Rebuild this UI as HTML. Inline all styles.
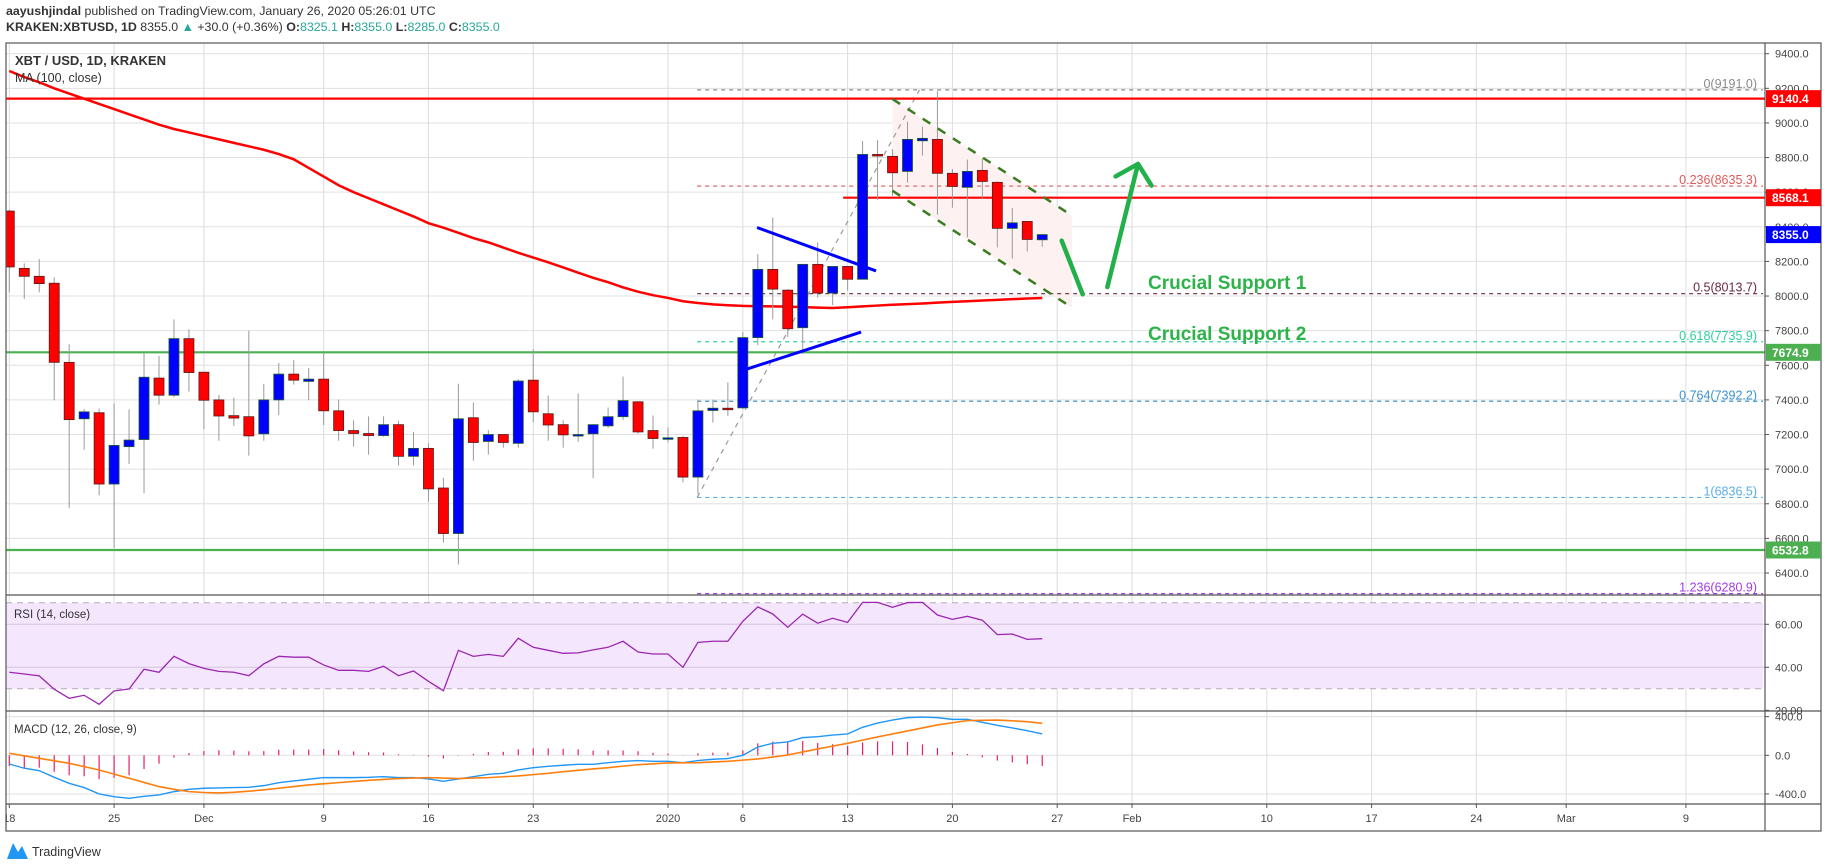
<!DOCTYPE html>
<html><head><meta charset="utf-8"><title>XBTUSD chart</title>
<style>
html,body{margin:0;padding:0;background:#fff;width:1828px;height:868px;overflow:hidden;font-family:"Liberation Sans",sans-serif;}
#hdr1{position:absolute;left:6px;top:4px;font-size:12.4px;color:#333;white-space:nowrap;}
#hdr2{position:absolute;left:6px;top:20px;font-size:12.4px;color:#333;white-space:nowrap;}
.tl{color:#26a69a;}
svg{position:absolute;left:0;top:0;}
</style></head>
<body>
<div id="hdr1"><b>aayushjindal</b> published on TradingView.com, January 26, 2020 05:26:01 UTC</div>
<div id="hdr2"><b>KRAKEN:XBTUSD, 1D</b> 8355.0 <span class="tl">▲</span> +30.0 (+0.36%) <b>O:</b><span class="tl">8325.1</span> <b>H:</b><span class="tl">8355.0</span> <b>L:</b><span class="tl">8285.0</span> <b>C:</b><span class="tl">8355.0</span></div>
<svg id="chart" width="1828" height="868"></svg>
<script>
// ---- data ----
const opens=[8491,8160,8114,8074,7617,7291,7326,6914,7130,7171,7526,7427,7754,7560,7400,7309,7303,7204,7400,7549,7507,7520,7337,7223,7206,7194,7257,7074,7120,6891,6628,7297,7160,7200,7149,7514,7320,7257,7198,7204,7250,7303,7389,7223,7179,7183,6954,7339,7352,7354,7760,8154,8034,7817,8183,8017,8171,8097,8818,8807,8720,8897,8905,8709,8628,8726,8657,8391,8431,8325];
const highs=[8500,8189,8213,8109,7722,7347,7350,7379,7345,7669,7653,7865,7808,7560,7430,7413,7800,7493,7613,7630,7585,7669,7402,7282,7305,7305,7280,7215,7150,6950,7493,7385,7225,7200,7520,7693,7425,7282,7436,7257,7356,7535,7392,7310,7242,7192,7402,7402,7501,7792,8242,8453,8040,8183,8310,8171,8171,8896,8901,8849,9007,8978,9183,8734,8788,8795,8662,8508,8431,8355];
const lows=[8021,7983,8021,7398,6775,7112,6849,6545,7030,6861,7373,7415,7448,7232,7164,7249,7078,7164,7312,7489,7398,7255,7164,7130,7084,7187,7021,7021,6811,6575,6449,7049,7084,7124,7124,7272,7164,7124,7158,6948,7238,7284,7204,7118,7154,6924,6857,7269,7307,7345,7716,7865,7764,7665,7992,7947,8032,8097,8556,8579,8655,8811,8470,8510,8339,8564,8281,8217,8258,8285];
const closes=[8168,8114,8072,7617,7286,7331,6914,7137,7168,7531,7427,7754,7558,7398,7307,7295,7192,7400,7549,7514,7520,7337,7223,7206,7194,7257,7074,7120,6886,6628,7291,7154,7200,7154,7509,7331,7255,7198,7200,7257,7303,7396,7215,7177,7181,6954,7337,7352,7350,7760,8154,8040,7811,8183,8017,8171,8097,8818,8809,8712,8905,8911,8709,8633,8720,8662,8391,8423,8327,8355];
const maValues=[9300,9265,9235,9200,9170,9140,9110,9080,9050,9020,8990,8965,8945,8925,8905,8885,8865,8845,8820,8790,8740,8690,8640,8600,8565,8530,8495,8460,8421,8395,8365,8335,8310,8280,8250,8222,8195,8165,8135,8105,8080,8050,8025,8005,7989,7970,7960,7952,7947,7943,7941,7940,7939,7936,7933,7931,7935,7940,7945,7950,7953,7957,7962,7966,7970,7974,7978,7982,7986,7989];
const rsiValues=[37.7,36.9,36.0,29.8,25.6,27.0,22.8,29.0,29.9,39.1,37.7,45.1,41.7,39.5,38.1,37.7,36.1,41.6,45.1,44.7,44.7,41.1,38.6,38.6,38.1,40.5,36.1,38.3,33.5,29.1,47.9,45.1,46.0,45.1,53.5,49.3,47.9,46.5,46.7,48.1,49.3,52.1,47.1,46.2,46.2,40.0,51.6,52.1,52.1,61.4,68.1,64.8,58.6,64.7,60.5,62.8,60.9,70.2,70.2,67.9,70.1,70.2,64.3,62.3,63.7,61.9,55.2,55.5,53.0,53.3];
const macdValues=[-90,-134,-159,-228,-290,-334,-400,-428,-445,-424,-410,-376,-352,-341,-338,-334,-331,-314,-283,-265,-248,-231,-231,-231,-228,-221,-231,-231,-245,-269,-245,-221,-197,-186,-152,-128,-114,-103,-93,-93,-76,-62,-55,-62,-62,-76,-55,-41,-34,0,86,124,138,183,193,210,221,290,334,365,390,396,390,372,372,341,310,283,255,221];
const signalValues=[21,-5,-31,-57,-83,-117,-152,-195,-238,-281,-324,-352,-376,-385,-390,-383,-372,-357,-341,-324,-307,-295,-283,-271,-259,-250,-241,-236,-231,-236,-241,-236,-231,-222,-214,-200,-186,-170,-155,-141,-128,-112,-97,-88,-79,-78,-76,-69,-62,-50,-38,-18,3,35,66,95,124,157,190,221,252,283,314,337,359,362,365,357,348,331];
const priceTicks=[9400,9200,9000,8800,8600,8400,8200,8000,7800,7600,7400,7200,7000,6800,6600,6400];
const rsiTicks=[60,40,20];
const macdTicks=[400,0,-400];
const timeTickDays=[0,7,13,21,28,35,44,49,56,63,70,75,84,91,98,104,112];
const timeTickLabels=['18','25','Dec','9','16','23','2020','6','13','20','27','Feb','10','17','24','Mar','9'];
const fibRatios=['0','0.236','0.5','0.618','0.764','1','1.236'];
const fibPrices=[9191.0,8635.3,8013.7,7735.9,7392.2,6836.5,6280.9];
const fibColors=['#8a8a8a','#e05a5a','#6a2a40','#2ecf9f','#3a92d0','#5ab0e8','#a53be0'];
const levelPrices=[9140.4,8568.1,7674.9,6532.8];
const levelColors=['#ff0000','#ff0000','#4caf50','#4caf50'];
const levelStartDay=[-1,56,-1,-1];
const lastPrice=8355.0;

// ---- axes ----
const L=6,R=1765,RR=1821,TOP=43,MB=595,RB=711,MCB=804,BOT=831;
function xD(d){return 9.3+d*14.97;}
function yP(p){return 53.7+(9400-p)*0.1731;}
function yR(v){return 624.3+(60-v)*2.15;}
function yM(v){return 755.3-v*0.0966;}

const svg=document.getElementById('chart');
const NS=svg.namespaceURI;
function mk(tag,attrs,parent){const e=document.createElementNS(NS,tag);for(const k in attrs)e.setAttribute(k,attrs[k]);(parent||svg).appendChild(e);return e;}
function fmt(v,n){return v.toFixed(n);}

const defs=mk('defs',{});
const cp=mk('clipPath',{id:'plotclip'},defs);mk('rect',{x:L,y:TOP,width:R-L,height:BOT-TOP},cp);
const g=mk('g',{'clip-path':'url(#plotclip)'});

for(const p of priceTicks){const ln=mk('line',{x1:L,x2:R,y1:yP(p),y2:yP(p),stroke:'#e0e0e0','stroke-width':1},g);

}
for(const d of timeTickDays){const ln=mk('line',{x1:xD(d),x2:xD(d),y1:TOP,y2:MCB,stroke:'#dcdcdc','stroke-width':1},g);

}

const band=mk('rect',{x:L,y:yR(70),width:R-L-2,height:yR(30)-yR(70),fill:'#f3e6fd'},g);


for(const v of [60,40]){const ln=mk('line',{x1:L,x2:R,y1:yR(v),y2:yR(v),stroke:'#d4c4dc','stroke-width':1},g);

}
for(const v of [70,30]){const ln=mk('line',{x1:L,x2:R-2,y1:yR(v),y2:yR(v),stroke:'#b8a8bc','stroke-width':1,'stroke-dasharray':'6,5'},g);

}
for(const v of macdTicks){const ln=mk('line',{x1:L,x2:R,y1:yM(v),y2:yM(v),stroke:'#e0e0e0','stroke-width':1},g);

}

const ch=mk('polygon',{points:[[xD(59),yP(9138)],[xD(71),yP(8464)],[xD(71),yP(7930)],[xD(59),yP(8608)]].map(a=>a.join(',')).join(' '),fill:'#fdf1f1'},g);



for(let i=0;i<fibPrices.length;i++){const y=yP(fibPrices[i]);
const ln=mk('line',{x1:xD(45.95),x2:R-2,y1:y,y2:y,stroke:fibColors[i],'stroke-width':1.2,'stroke-dasharray':'4,4'},g);


const t=mk('text',{x:R-8,y:y-2,'text-anchor':'end','font-size':12.5,fill:fibColors[i]},g);
t.textContent=fibRatios[i]+'('+fmt(fibPrices[i],1)+')';

}
const fl=mk('line',{x1:xD(45.95),y1:yP(6836.5),x2:xD(60.8),y2:yP(9191),stroke:'#999','stroke-width':1.2,'stroke-dasharray':'5,5'},g);



for(let i=0;i<levelPrices.length;i++){const y=yP(levelPrices[i]);const x1=levelStartDay[i]<0?L:xD(levelStartDay[i]-0.3);
const ln=mk('line',{x1:x1,x2:R,y1:y,y2:y,stroke:levelColors[i],'stroke-width':2.2},g);

}

const maPts=maValues.map((v,i)=>xD(i)+','+yP(v)).join(' ');
const ma=mk('polyline',{points:maPts,fill:'none',stroke:'#ff0000','stroke-width':2.5},g);



for(let i=0;i<opens.length;i++){const x=xD(i);const up=closes[i]>=opens[i];
const w=mk('line',{x1:x,x2:x,y1:yP(highs[i]),y2:yP(lows[i]),stroke:'#9a9a9a','stroke-width':1},g);


const top=yP(Math.max(opens[i],closes[i]));const h=Math.max(1.5,yP(Math.min(opens[i],closes[i]))-top);
const b=mk('rect',{x:x-5,y:top,width:10,height:h,fill:up?'#0000ff':'#ff0000',stroke:up?'#1d5a2a':'#5a1a1a','stroke-width':0.8},g);

}

const bl1=mk('line',{x1:xD(49.95),y1:yP(8396),x2:xD(57.9),y2:yP(8145),stroke:'#0000ff','stroke-width':3},g);


const bl2=mk('line',{x1:xD(49.3),y1:yP(7579),x2:xD(56.9),y2:yP(7792),stroke:'#0000ff','stroke-width':3},g);


const cu=mk('line',{x1:xD(59),y1:yP(9138),x2:xD(71),y2:yP(8464),stroke:'#3a7d20','stroke-width':2.5,'stroke-dasharray':'9,9'},g);


const cl=mk('line',{x1:xD(59),y1:yP(8608),x2:xD(70.9),y2:yP(7938),stroke:'#3a7d20','stroke-width':2.5,'stroke-dasharray':'9,9'},g);


const a1=mk('line',{x1:xD(70.3),y1:yP(8320),x2:xD(71.7),y2:yP(8010),stroke:'#22b04a','stroke-width':4.5,'stroke-linecap':'round'},g);


const a2=mk('line',{x1:xD(73.35),y1:yP(8052),x2:xD(75.4),y2:yP(8763),stroke:'#22b04a','stroke-width':4.5,'stroke-linecap':'round'},g);


const a3=mk('polyline',{points:xD(73.9)+','+yP(8691)+' '+xD(75.4)+','+yP(8763)+' '+xD(76.3)+','+yP(8638),fill:'none',stroke:'#22b04a','stroke-width':4.5,'stroke-linecap':'round','stroke-linejoin':'round'},g);


const s1=mk('text',{x:1148,y:289,'font-size':19,'font-weight':'bold',fill:'#2db34a'},g);s1.textContent='Crucial Support 1';


const s2=mk('text',{x:1148,y:340,'font-size':19,'font-weight':'bold',fill:'#2db34a'},g);s2.textContent='Crucial Support 2';



const rsi=mk('polyline',{points:rsiValues.map((v,i)=>xD(i)+','+yR(v)).join(' '),fill:'none',stroke:'#9c27b0','stroke-width':1.3},g);



for(let i=0;i<macdValues.length;i++){const v=macdValues[i]-signalValues[i];
const hb=mk('line',{x1:xD(i),x2:xD(i),y1:yM(0),y2:yM(v),stroke:'#e91e63','stroke-width':1.2},g);

}
const ml=mk('polyline',{points:macdValues.map((v,i)=>xD(i)+','+yM(v)).join(' '),fill:'none',stroke:'#2196f3','stroke-width':1.4},g);


const sl=mk('polyline',{points:signalValues.map((v,i)=>xD(i)+','+yM(v)).join(' '),fill:'none',stroke:'#ff7f0e','stroke-width':1.6},g);



const lab=[['XBT / USD, 1D, KRAKEN',15,65,13,'bold','chart-title'],['MA (100, close)',15,82,12.5,'normal','ma-legend'],['RSI (14, close)',14,618,11.5,'normal','rsi-legend'],['MACD (12, 26, close, 9)',14,733,11.5,'normal','macd-legend']];
for(const l of lab){const t=mk('text',{x:l[1],y:l[2],'font-size':l[3],'font-weight':l[4],fill:'#333'});t.textContent=l[0];

}

const fr=mk('rect',{x:L,y:TOP,width:RR-L,height:BOT-TOP,fill:'none',stroke:'#555','stroke-width':1.2});


for(const y of [MB,RB,MCB]){const ln=mk('line',{x1:L,x2:RR,y1:y,y2:y,stroke:'#555','stroke-width':1.2});

}
const pa=mk('line',{x1:R,x2:R,y1:TOP,y2:BOT,stroke:'#555','stroke-width':1.2});



function axLabel(y,txt,name){mk('line',{x1:R,x2:R+4,y1:y,y2:y,stroke:'#555'});
const t=mk('text',{x:R+10,y:y+4,'font-size':11,fill:'#444'});t.textContent=txt;

}
for(const p of priceTicks)axLabel(yP(p),fmt(p,1),'price-tick-label');
for(const v of rsiTicks)axLabel(yR(v),fmt(v,2),'rsi-tick-label');
for(const v of macdTicks)axLabel(yM(v),fmt(v,1),'macd-tick-label');

function box(p,col,name){const y=yP(p);
const r=mk('rect',{x:R+1,y:y-8.5,width:55,height:17,fill:col});


const t=mk('text',{x:R+7,y:y+4.5,'font-size':12,'font-weight':'bold',fill:'#fff'});t.textContent=fmt(p,1);

}
for(let i=0;i<levelPrices.length;i++)box(levelPrices[i],levelColors[i],'level-price-tag');
box(lastPrice,'#0000ff','last-price-tag');

const tcp=mk('clipPath',{id:'tclip'},defs);mk('rect',{x:L,y:MCB,width:R-L,height:BOT-MCB},tcp);
const tg=mk('g',{'clip-path':'url(#tclip)'});
for(let i=0;i<timeTickDays.length;i++){const x=xD(timeTickDays[i]);
mk('line',{x1:x,x2:x,y1:MCB,y2:MCB+4,stroke:'#555'},tg);
const t=mk('text',{x:x,y:822,'text-anchor':'middle','font-size':11,fill:'#444'},tg);t.textContent=timeTickLabels[i];

}

const lg=mk('g',{});


mk('path',{d:'M7 859 L13 843 L18 852 L22 846 L28 859 Z',fill:'#2196f3'},lg);
const lt=mk('text',{x:32,y:856,'font-size':12.5,fill:'#333'},lg);lt.textContent='TradingView';
</script>
</body></html>
